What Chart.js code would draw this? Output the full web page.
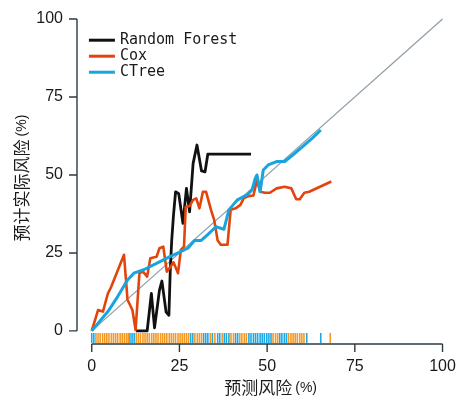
<!DOCTYPE html>
<html>
<head>
<meta charset="utf-8">
<script src="https://cdn.jsdelivr.net/npm/chart.js@4.4.1/dist/chart.umd.min.js"></script>
<style>
  html, body { margin: 0; padding: 0; background: #ffffff; overflow: hidden; }
  canvas { display: block; }
</style>
</head>
<body>
<canvas id="calib" width="460" height="399"></canvas>
<script>
// ---- data -------------------------------------------------------------
const seriesNames = ['Random Forest', 'Cox', 'CTree'];

// Random Forest: predicted risk (%) vs observed risk (%)
const rfPred = [12.6, 15.8, 17.0, 17.9, 19.3, 20.0, 21.2, 22.0, 22.4, 22.8, 23.3, 23.9, 24.8, 26.0, 27.0, 27.9, 28.9, 30.0, 31.3, 32.3, 33.1, 45.4];
const rfObs  = [0, 0, 12, 1, 13, 16, 6, 5, 20, 29, 37, 44.6, 44, 34.5, 45.7, 38.2, 53.7, 59.6, 51.3, 51, 56.7, 56.7];

// Cox
const coxPred = [0, 1.8, 3.2, 4.6, 5.5, 9.2, 10.2, 11.6, 12.5, 13.6, 14.6, 15.8, 16.7, 18.5, 19.3, 20.4, 21.4, 22.5, 23.3, 24.6, 25.4, 26.3, 26.8, 27.9, 28.9, 29.8, 30.7, 31.7, 32.6, 34.0, 34.9, 35.9, 36.8, 38.7, 39.6, 41.0, 42.4, 43.3, 44.7, 46.1, 47.1, 48.0, 49.4, 50.8, 52.7, 55.0, 56.9, 58.3, 59.3, 60.6, 62.0, 68.3];
const coxObs  = [0, 6.7, 6.2, 12, 14, 24.4, 10, 6.7, 0.3, 18.5, 19, 17.4, 23.3, 23.8, 26.5, 27, 19, 20.6, 22, 18.5, 26, 27, 39.8, 40, 42, 42.5, 39.3, 44.6, 44.6, 38.8, 35.6, 29, 27.6, 27.6, 38.8, 39.3, 40.4, 42.5, 43.2, 43.4, 48.4, 44.6, 44.3, 44.3, 45.7, 46.2, 45.7, 42.2, 42.2, 44.3, 44.6, 47.9];

// CTree
const ctreePred = [0, 4.6, 7.4, 10.2, 12.0, 14.8, 18.6, 22.3, 24.6, 27.4, 29.3, 31.2, 33.0, 35.4, 37.7, 39.1, 41.5, 44.3, 45.7, 46.6, 47.1, 48.0, 48.9, 50.3, 52.7, 55.0, 57.3, 60.1, 62.9, 65.3];
const ctreeObs  = [0, 6.2, 11, 16.3, 18.5, 19.6, 21.7, 23.8, 25, 26.5, 29, 29, 30.8, 33.4, 32.6, 38.8, 42, 43.6, 45.2, 48.9, 50, 44.6, 51.6, 53.2, 54.3, 54.3, 56.4, 59.1, 61.8, 64.4];

// perfect calibration reference
const refLine = [0, 100];

// individual predicted risks shown as a rug along the bottom
const rugCox = [1.2, 1.8, 2.4, 3.1, 3.7, 4.3, 4.9, 5.6, 6.2, 6.8, 7.4, 8.1, 8.7, 9.3, 9.9, 10.4, 12.7, 13.3, 13.9, 14.6, 15.2, 15.8, 16.4, 17.1, 17.7, 18.3, 18.9, 19.6, 20.2, 20.8, 21.4, 22.1, 22.7, 23.3, 23.9, 24.6, 25.2, 25.8, 26.4, 27.0, 27.6, 29.4, 30.1, 30.7, 31.3, 33.8, 35.1, 37.2, 39.7, 40.4, 42.2, 42.8, 43.5, 44.1, 51.7, 52.4, 53.0, 56.1, 56.8, 57.4, 58.0, 58.6, 59.3, 59.9, 60.5, 68.0];
const rugCTree = [0, 0.6, 10.9, 11.5, 12.1, 28.2, 28.8, 31.9, 32.5, 33.1, 34.4, 35.9, 36.5, 37.8, 38.4, 39.1, 41.0, 41.6, 44.8, 45.4, 46.1, 46.7, 47.3, 48.0, 48.6, 49.2, 49.9, 50.5, 51.1, 53.6, 54.2, 54.9, 55.5, 61.3, 65.3];

// axes
const tickValues = [0, 25, 50, 75, 100];
const tickLabels = ['0', '25', '50', '75', '100'];
const xTitle = '预测风险';
const yTitle = '预计实际风险';
const unitText = '(%)';

// ---- styling ---------------------------------------------------------
const COLORS = ['#111111', '#e2440c', '#18a4de'];
const RUG_COLORS = { cox: '#f39a26', ctree: '#1eaae6' };
const AXIS_COLOR = '#2c3a42';
const TEXT_COLOR = '#1a1a1a';
const RUG_LEVEL = -2.3;   // vertical centre of the rug, in y units

const pairs = (xs, ys) => xs.map((x, i) => ({ x: x, y: ys[i] }));
const rugPoints = xs => xs.map(x => ({ x: x, y: RUG_LEVEL }));

function lineSet(label, xs, ys, color, width, order) {
  return {
    label: label,
    data: pairs(xs, ys),
    borderColor: color,
    backgroundColor: color,
    borderWidth: width,
    pointRadius: 0,
    tension: 0,
    fill: false,
    borderJoinStyle: 'round',
    order: order,
    clip: 6
  };
}

function rugSet(xs, color) {
  return {
    label: '',
    data: rugPoints(xs),
    showLine: false,
    pointStyle: 'line',
    rotation: 90,
    pointRadius: 5,
    pointBorderWidth: 1.6,
    pointBorderColor: color,
    borderColor: color,
    order: 6
  };
}

const datasets = [
  lineSet(seriesNames[0], rfPred, rfObs, COLORS[0], 2.8, 3),
  lineSet(seriesNames[1], coxPred, coxObs, COLORS[1], 2.6, 2),
  lineSet(seriesNames[2], ctreePred, ctreeObs, COLORS[2], 3.0, 1),
  Object.assign(lineSet('', refLine, refLine, '#8d9ea8', 1.2, 5), { borderJoinStyle: 'miter' }),
  rugSet(rugCox, RUG_COLORS.cox),
  rugSet(rugCTree, RUG_COLORS.ctree)
];

// ---- axes, titles and legend drawn from the chart's own scales -----------
const frame = {
  id: 'frame',
  afterDraw(chart) {
    const ctx = chart.ctx;
    const xs = chart.scales.x, ys = chart.scales.y;
    const area = chart.chartArea;
    const axisX = area.left;      // left axis position
    const axisY = area.bottom;    // bottom axis position
    const tick = 8;

    ctx.save();
    ctx.strokeStyle = AXIS_COLOR;
    ctx.lineWidth = 1.4;
    ctx.lineCap = 'butt';

    // left axis
    ctx.beginPath();
    ctx.moveTo(axisX, ys.getPixelForValue(tickValues[0]));
    ctx.lineTo(axisX, ys.getPixelForValue(tickValues[tickValues.length - 1]));
    tickValues.forEach(v => {
      const py = ys.getPixelForValue(v);
      ctx.moveTo(axisX, py);
      ctx.lineTo(axisX - tick, py);
    });
    ctx.stroke();

    // bottom axis
    ctx.beginPath();
    ctx.moveTo(xs.getPixelForValue(tickValues[0]), axisY);
    ctx.lineTo(xs.getPixelForValue(tickValues[tickValues.length - 1]), axisY);
    tickValues.forEach(v => {
      const px = xs.getPixelForValue(v);
      ctx.moveTo(px, axisY);
      ctx.lineTo(px, axisY + tick);
    });
    ctx.stroke();

    // tick labels
    ctx.fillStyle = TEXT_COLOR;
    ctx.font = '16px "Liberation Sans", Arial, sans-serif';
    ctx.textBaseline = 'middle';
    ctx.textAlign = 'right';
    tickValues.forEach((v, i) => {
      ctx.fillText(tickLabels[i], axisX - 14, ys.getPixelForValue(v));
    });
    ctx.textAlign = 'center';
    tickValues.forEach((v, i) => {
      ctx.fillText(tickLabels[i], xs.getPixelForValue(v), axisY + 23);
    });

    // axis titles: CJK text followed by a smaller unit
    const cjkFont = '17px "Noto Sans CJK SC", sans-serif';
    const unitFont = '14px "Liberation Sans", Arial, sans-serif';
    function titleWidths(t) {
      ctx.font = cjkFont; const a = ctx.measureText(t).width;
      ctx.font = unitFont; const b = ctx.measureText(unitText).width;
      return [a, b];
    }
    function drawTitle(t, cx, cy) {
      const [a, b] = titleWidths(t);
      const gap = 3;
      const start = cx - (a + gap + b) / 2;
      ctx.textAlign = 'left';
      ctx.textBaseline = 'middle';
      ctx.font = cjkFont;
      ctx.fillText(t, start, cy);
      ctx.font = unitFont;
      ctx.fillText(unitText, start + a + gap, cy);
    }
    drawTitle(xTitle, xs.getPixelForValue(51), axisY + 44);

    ctx.save();
    ctx.translate(axisX - 55, ys.getPixelForValue(49));
    ctx.rotate(-Math.PI / 2);
    drawTitle(yTitle, 0, 0);
    ctx.restore();

    // legend
    const lx = xs.getPixelForValue(-0.8);
    const ly0 = ys.getPixelForValue(93.2);
    const step = 16;
    ctx.font = '15px "DejaVu Sans Mono", monospace';
    ctx.textAlign = 'left';
    ctx.textBaseline = 'middle';
    seriesNames.forEach((name, i) => {
      const y = ly0 + i * step;
      ctx.strokeStyle = COLORS[i];
      ctx.lineWidth = 3;
      ctx.beginPath();
      ctx.moveTo(lx, y);
      ctx.lineTo(lx + 26, y);
      ctx.stroke();
      ctx.fillStyle = TEXT_COLOR;
      ctx.fillText(name, lx + 31, y);
    });

    ctx.restore();
  }
};

new Chart(document.getElementById('calib'), {
  type: 'line',
  data: { datasets: datasets },
  options: {
    responsive: false,
    animation: false,
    events: [],
    layout: { padding: { left: 77, right: 0, top: 19, bottom: 55 } },
    scales: {
      x: { type: 'linear', min: -4.2, max: 103.1, display: false },
      y: { type: 'linear', min: -4.2, max: 100, display: false }
    },
    plugins: {
      legend: { display: false },
      tooltip: { enabled: false }
    }
  },
  plugins: [frame]
});
</script>
</body>
</html>
